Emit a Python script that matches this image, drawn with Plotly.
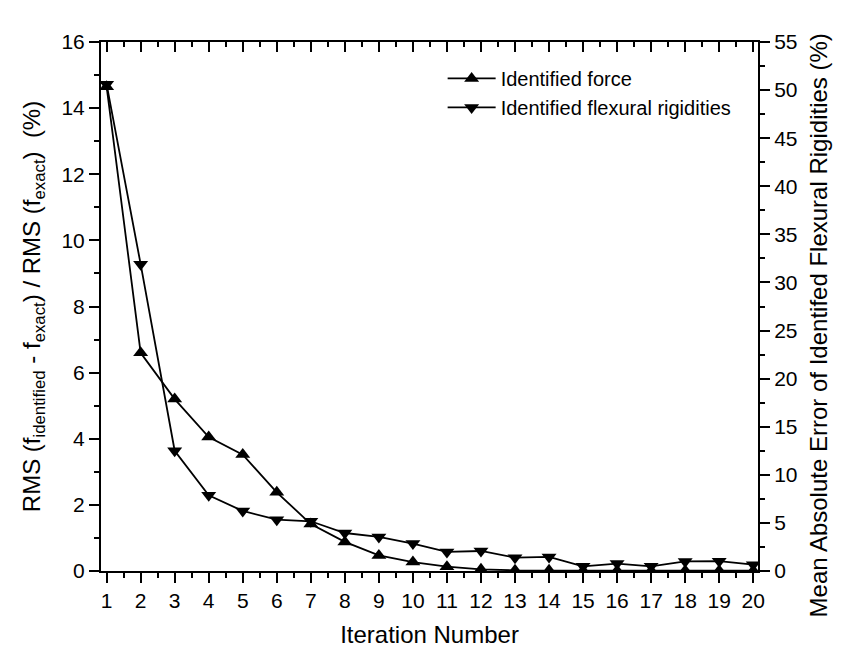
import plotly.graph_objects as go

# Iteration index
iterations = list(range(1, 21))

# RMS error of identified force (%) - left axis
force_error = [14.65, 6.6, 5.2, 4.05, 3.52, 2.38, 1.42, 0.88, 0.47, 0.27,
               0.13, 0.05, 0.02, 0.02, 0.01, 0.01, 0.01, 0.01, 0.01, 0.01]

# Mean absolute error of identified flexural rigidities (%) - right axis
rigidity_error = [50.6, 31.9, 12.5, 7.87, 6.24, 5.34, 5.17, 3.95, 3.54, 2.85,
                  1.98, 2.08, 1.39, 1.46, 0.49, 0.77, 0.49, 1.0, 1.02, 0.66]

x_ticks = list(range(1, 21))

left_title = ("RMS (f<sub>identified</sub> - f<sub>exact</sub>) / "
              "RMS (f<sub>exact</sub>)&nbsp;&nbsp;(%)")
right_title = "Mean Absolute Error of Identifed Flexural Rigidities (%)"

FONT = "Liberation Sans, Arial, sans-serif"
BLACK = "#000000"

fig = go.Figure()

fig.add_trace(go.Scatter(
    x=iterations, y=force_error, name="Identified force",
    mode="lines+markers",
    line=dict(color=BLACK, width=1.8),
    marker=dict(symbol="triangle-up", size=13, color=BLACK),
    xaxis="x", yaxis="y",
))
fig.add_trace(go.Scatter(
    x=iterations, y=rigidity_error, name="Identified flexural rigidities",
    mode="lines+markers",
    line=dict(color=BLACK, width=1.8),
    marker=dict(symbol="triangle-down", size=13, color=BLACK),
    xaxis="x", yaxis="y2",
))
# invisible trace so the top frame axis is rendered
fig.add_trace(go.Scatter(
    x=[iterations[0]], y=[force_error[0]], mode="markers",
    marker=dict(opacity=0), showlegend=False, hoverinfo="skip",
    xaxis="x2", yaxis="y",
))

x_range = [0.835, 20.14]

fig.update_layout(
    width=844, height=648,
    margin=dict(l=101, r=86, t=42, b=77, autoexpand=False),
    plot_bgcolor="white", paper_bgcolor="white",
    font=dict(family=FONT, size=21, color=BLACK),
    showlegend=True,
    legend=dict(
        x=0.52, y=0.968, xanchor="left", yanchor="top",
        bgcolor="rgba(0,0,0,0)", font=dict(size=20, family=FONT),
        itemwidth=48, tracegroupgap=0,
    ),
    xaxis=dict(
        range=x_range, tickmode="array", tickvals=x_ticks,
        ticktext=[str(v) for v in x_ticks], automargin=False,
        showline=True, linecolor=BLACK, linewidth=2, mirror=False,
        ticks="outside", ticklen=10, tickwidth=2, tickcolor=BLACK,
        minor=dict(dtick=0.5, tick0=0.5, ticks="outside", ticklen=5,
                   tickwidth=2, tickcolor=BLACK, showgrid=False),
        showgrid=False, zeroline=False,
        tickfont=dict(size=21),
        title=dict(text="Iteration Number", font=dict(size=24), standoff=16),
    ),
    xaxis2=dict(
        range=x_range, overlaying="x", side="top", anchor="y",
        tickmode="array", tickvals=x_ticks, showticklabels=False,
        automargin=False,
        showline=True, linecolor=BLACK, linewidth=2,
        ticks="inside", ticklen=10, tickwidth=2, tickcolor=BLACK,
        minor=dict(dtick=0.5, tick0=0.5, ticks="inside", ticklen=5,
                   tickwidth=2, tickcolor=BLACK, showgrid=False),
        showgrid=False, zeroline=False,
    ),
    yaxis=dict(
        range=[0, 16], dtick=2, tick0=0, automargin=False,
        showline=True, linecolor=BLACK, linewidth=2,
        ticks="outside", ticklen=10, tickwidth=2, tickcolor=BLACK,
        minor=dict(dtick=1, ticks="outside", ticklen=5, tickwidth=2,
                   tickcolor=BLACK, showgrid=False),
        showgrid=False, zeroline=False,
        tickfont=dict(size=21),
        title=dict(text=left_title, font=dict(size=24), standoff=14),
    ),
    yaxis2=dict(
        range=[0, 55], dtick=5, tick0=0, overlaying="y", side="right",
        anchor="x", automargin=False,
        showline=True, linecolor=BLACK, linewidth=2,
        ticks="outside", ticklen=10, tickwidth=2, tickcolor=BLACK,
        minor=dict(dtick=2.5, ticks="outside", ticklen=5, tickwidth=2,
                   tickcolor=BLACK, showgrid=False),
        showgrid=False, zeroline=False,
        tickfont=dict(size=21),
    ),
    annotations=[dict(
        text=right_title, textangle=-90, showarrow=False,
        xref="paper", yref="paper", x=1.092, y=0.465,
        xanchor="center", yanchor="middle",
        font=dict(size=24, family=FONT, color=BLACK),
    )],
)

fig.write_html("out.html")
